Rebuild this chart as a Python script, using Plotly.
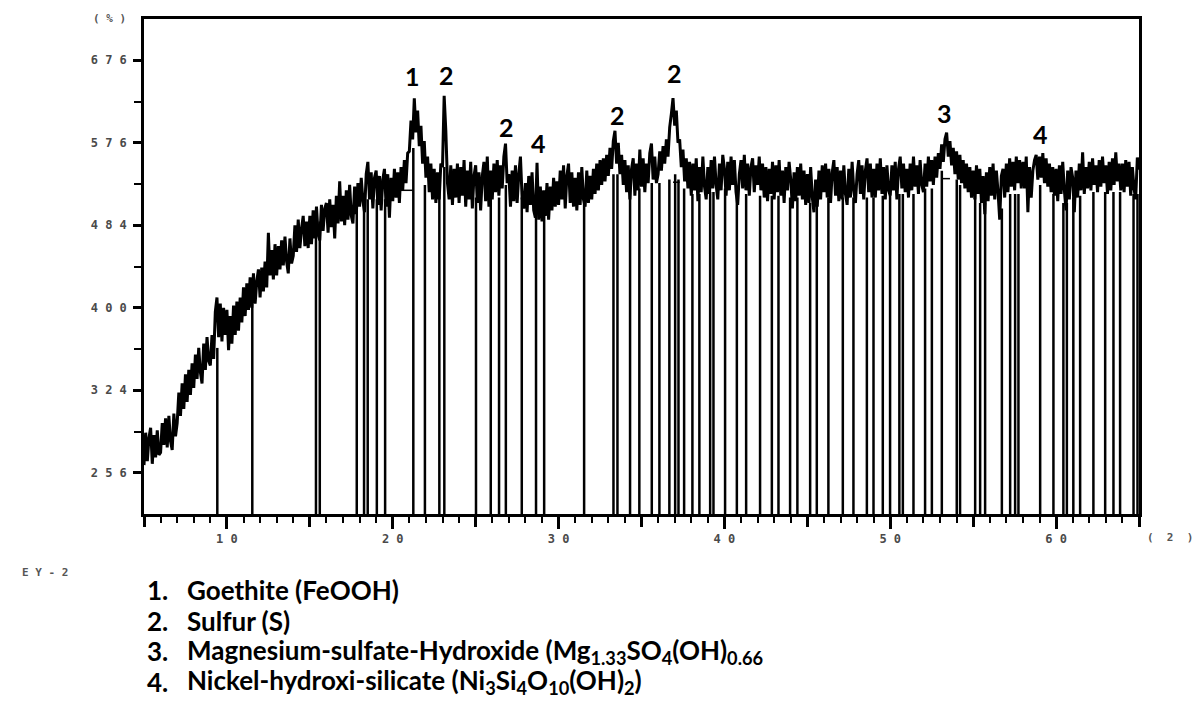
import numpy as np
import plotly.graph_objects as go

# ---------------- data ----------------
scan_start = 5.0      # 2-theta of first sample
scan_step = 0.1       # 2-theta step between samples

# intensity (counts, %) for 2-theta = 5.0, 5.1, ... 65.0  (one row per degree)
intensity = [
    262, 288, 265, 284, 292, 263, 286, 268, 290, 270,   # 5
    272, 296, 278, 300, 276, 302, 281, 274, 304, 285,   # 6
    296, 322, 302, 330, 308, 338, 314, 342, 320, 348,   # 7
    326, 356, 334, 362, 340, 330, 366, 342, 372, 350,   # 8
    346, 374, 352, 396, 410, 372, 404, 368, 400, 374,   # 9
    398, 360, 392, 366, 402, 374, 406, 378, 410, 386,   # 10
    420, 392, 424, 398, 430, 400, 434, 404, 426, 438,   # 11
    410, 440, 416, 446, 420, 476, 432, 458, 428, 464,   # 12
    432, 462, 438, 468, 442, 472, 446, 434, 470, 444,   # 13
    452, 484, 456, 490, 460, 480, 494, 462, 488, 460,   # 14
    494, 464, 500, 470, 504, 474, 468, 506, 478, 502,   # 15
    508, 476, 512, 482, 506, 470, 516, 486, 532, 488,   # 16
    516, 484, 522, 490, 528, 494, 486, 526, 496, 530,   # 17
    504, 536, 510, 498, 540, 554, 512, 542, 502, 536,   # 18
    544, 506, 538, 500, 534, 546, 504, 540, 492, 536,   # 19
    510, 546, 514, 542, 508, 548, 522, 556, 530, 564,   # 20
    566, 602, 580, 629, 588, 614, 572, 596, 552, 578,   # 21
    536, 560, 520, 552, 512, 546, 508, 542, 512, 552,   # 22
    548, 632, 590, 530, 512, 550, 506, 546, 514, 552,   # 23
    508, 548, 516, 556, 504, 544, 512, 554, 502, 538,   # 24
    550, 508, 542, 500, 538, 554, 510, 560, 504, 544,   # 25
    512, 552, 520, 556, 516, 550, 524, 560, 575, 530,   # 26
    540, 504, 544, 510, 550, 508, 540, 560, 514, 502,   # 27
    530, 498, 538, 506, 542, 500, 492, 553, 490, 526,   # 28
    488, 522, 494, 530, 490, 526, 500, 536, 504, 532,   # 29
    506, 544, 512, 550, 502, 538, 552, 508, 542, 504,   # 30
    536, 500, 542, 506, 548, 512, 504, 544, 508, 538,   # 31
    512, 546, 518, 552, 522, 556, 528, 558, 532, 562,   # 32
    538, 570, 546, 578, 590, 552, 576, 540, 562, 528,   # 33
    556, 520, 550, 512, 546, 558, 516, 552, 522, 568,   # 34
    526, 558, 520, 552, 530, 564, 575, 534, 560, 530,   # 35
    540, 566, 544, 572, 552, 580, 560, 594, 610, 629,   # 36
    596, 614, 576, 580, 548, 568, 532, 558, 524, 554,   # 37
    516, 552, 522, 558, 510, 548, 520, 560, 526, 512,   # 38
    548, 518, 556, 524, 560, 528, 512, 552, 522, 562,   # 39
    546, 516, 554, 522, 560, 528, 556, 520, 506, 540,   # 40
    556, 524, 562, 522, 552, 516, 548, 558, 520, 550,   # 41
    528, 560, 522, 552, 514, 548, 510, 546, 518, 554,   # 42
    512, 550, 520, 556, 516, 544, 508, 548, 522, 554,   # 43
    534, 502, 542, 510, 548, 516, 552, 512, 544, 506,   # 44
    540, 508, 548, 514, 498, 534, 504, 544, 512, 550,   # 45
    520, 552, 514, 546, 508, 542, 556, 516, 548, 510,   # 46
    544, 512, 550, 518, 506, 546, 514, 554, 522, 508,   # 47
    540, 556, 518, 550, 512, 544, 558, 520, 552, 514,   # 48
    546, 514, 552, 522, 558, 518, 548, 512, 550, 522,   # 49
    516, 550, 522, 554, 512, 546, 560, 524, 552, 520,   # 50
    546, 514, 552, 522, 560, 526, 550, 518, 556, 528,   # 51
    520, 552, 526, 560, 532, 556, 528, 560, 536, 564,   # 52
    546, 574, 554, 580, 588, 560, 578, 550, 570, 540,   # 53
    566, 534, 562, 530, 556, 524, 552, 520, 548, 514,   # 54
    544, 512, 550, 518, 546, 508, 538, 496, 542, 510,   # 55
    548, 516, 552, 512, 544, 520, 490, 538, 546, 514,   # 56
    552, 520, 558, 526, 554, 522, 560, 530, 556, 524,   # 57
    554, 524, 560, 498, 548, 514, 544, 556, 562, 534,   # 58
    560, 536, 564, 530, 558, 526, 552, 520, 548, 516,   # 59
    546, 510, 550, 518, 554, 522, 500, 544, 512, 548,   # 60
    536, 498, 544, 514, 552, 522, 565, 518, 548, 524,   # 61
    554, 522, 558, 528, 550, 520, 556, 526, 560, 530,   # 62
    550, 518, 554, 522, 558, 528, 565, 532, 552, 522,   # 63
    552, 520, 556, 526, 554, 516, 548, 524, 512, 559,   # 64
    545,                                                # 65
]

# reference (stick) lines: 2-theta position and the intensity where each stick ends
stick_pos = [
    9.42, 11.53, 15.37, 15.60, 17.83, 18.27, 18.49, 19.04, 19.54,
    21.24, 21.94, 22.81, 23.11, 25.02, 25.91, 26.41, 26.82, 27.78, 28.64, 29.13,
    31.54, 33.31, 33.55, 34.31, 34.87, 35.62, 36.08,
    36.68, 37.03, 37.23, 37.57, 38.07, 38.49, 39.14, 39.34, 40.04, 40.75, 41.31,
    42.15, 42.86, 43.26, 43.96, 44.40, 45.17, 45.57, 46.27, 47.14, 47.78, 48.59,
    48.99, 49.55, 49.99, 50.55,
    50.76, 51.40, 52.10, 52.51, 53.11, 54.01, 54.21, 55.12, 55.42, 55.72, 56.73,
    57.23, 57.53, 57.73, 59.04, 59.84, 60.44, 60.65, 61.04, 61.45, 62.25, 62.96,
    63.46, 63.86, 64.67, 64.91,
]
stick_top = [
    362, 404, 486, 488, 506, 512, 512, 512, 512,
    570, 528, 522, 548, 514, 514, 514, 528, 514, 508, 502,
    514, 540, 540, 524, 524, 530, 530,
    534, 540, 534, 524, 518, 518, 520, 520, 524, 518, 518,
    516, 516, 516, 514, 514, 508, 508, 514, 514, 514, 514,
    514, 516, 516, 518,
    518, 518, 524, 524, 544, 534, 528, 518, 508, 508, 502,
    518, 518, 518, 528, 518, 508, 508, 514, 516, 520, 520,
    520, 520, 518, 518,
]
stick_floor = 225

# short background segments under the main peaks
base_start = [20.44, 36.90, 53.10]
base_end = [21.22, 37.30, 53.60]
base_level = [522, 531, 535]

# peak identification numbers
peak_text = ["1", "2", "2", "4", "2", "2", "3", "4"]
peak_x = [21.22, 23.27, 26.83, 28.76, 33.53, 36.97, 53.25, 59.04]
peak_y = [656, 658, 594, 576, 609, 660, 611, 586]

# axis ticks
y_tick_values = [256, 324, 400, 484, 576, 676]
y_minor_values = [289, 361, 441, 529, 625]
y_range = [225, 729]
x_range = [5, 65]
x_labelled = [10, 20, 30, 40, 50, 60]
x_unlabelled_major = [5, 15, 25, 35, 45, 55, 65]

legend_numbers = ["1.", "2.", "3.", "4."]
legend_texts = [
    "Goethite (FeOOH)",
    "Sulfur (S)",
    "Magnesium-sulfate-Hydroxide (Mg<sub>1.33</sub>SO<sub>4</sub>(OH)<sub>0.66</sub>",
    "Nickel-hydroxi-silicate (Ni<sub>3</sub>Si<sub>4</sub>O<sub>10</sub>(OH)<sub>2</sub>)",
]

# ---------------- figure ----------------
two_theta = np.round(scan_start + scan_step * np.arange(len(intensity)), 2)
y_curve = np.sqrt(np.array(intensity, dtype=float))   # square-root intensity scale

sx, sy = [], []
for p, t in zip(stick_pos, stick_top):
    sx += [p, p, None]
    sy += [np.sqrt(stick_floor), np.sqrt(t), None]

bx, by = [], []
for a, b, lv in zip(base_start, base_end, base_level):
    bx += [a, b, None]
    by += [np.sqrt(lv), np.sqrt(lv), None]

fig = go.Figure()
fig.add_trace(go.Scatter(x=sx, y=sy, mode="lines",
                         line=dict(color="black", width=2.5), hoverinfo="skip"))
fig.add_trace(go.Scatter(x=bx, y=by, mode="lines",
                         line=dict(color="black", width=1.5), hoverinfo="skip"))
fig.add_trace(go.Scatter(x=two_theta, y=y_curve, mode="lines",
                         line=dict(color="black", width=3.0, simplify=False),
                         hoverinfo="skip"))
# invisible helper trace so the second x axis (unlabelled long ticks) is drawn
fig.add_trace(go.Scatter(x=[x_range[0]], y=[float(np.sqrt(y_range[0]))], xaxis="x2",
                         mode="markers", marker=dict(opacity=0), hoverinfo="skip"))

tick_font = dict(family="DejaVu Sans Mono", size=12, color="#4a4a4a", weight="bold")

def spaced(v):
    return " ".join(str(v))

x_minor = [v for v in range(x_range[0] + 1, x_range[1]) if v % 5 != 0]

fig.update_layout(
    xaxis=dict(
        range=x_range, showgrid=False, zeroline=False,
        showline=True, linecolor="black", linewidth=2.5, mirror=True,
        ticks="outside", ticklen=12, tickwidth=2.5, tickcolor="black",
        tickmode="array", tickvals=x_labelled, ticktext=[spaced(v) for v in x_labelled],
        tickfont=tick_font,
        minor=dict(tickmode="array", tickvals=x_minor, ticks="outside",
                   ticklen=6, tickwidth=2, tickcolor="black", showgrid=False),
    ),
    xaxis2=dict(
        range=x_range, overlaying="x", anchor="y", side="bottom",
        showgrid=False, zeroline=False, showline=False, showticklabels=False,
        ticks="outside", ticklen=12, tickwidth=2.5, tickcolor="black",
        tickmode="array", tickvals=x_unlabelled_major,
    ),
    yaxis=dict(
        range=list(np.sqrt(y_range)), showgrid=False, zeroline=False,
        showline=True, linecolor="black", linewidth=2.5, mirror=True,
        ticks="outside", ticklen=8, tickwidth=2.5, tickcolor="black",
        tickmode="array", tickvals=list(np.sqrt(y_tick_values)),
        ticktext=[spaced(v) for v in y_tick_values],
        tickfont=tick_font, ticklabelstandoff=4,
        minor=dict(tickmode="array", tickvals=list(np.sqrt(y_minor_values)),
                   ticks="outside", ticklen=7, tickwidth=2, tickcolor="black",
                   showgrid=False),
    ),
)

annotations = []
for t, x, y in zip(peak_text, peak_x, peak_y):
    annotations.append(dict(x=x, y=float(np.sqrt(y)), xref="x", yref="y", text="<b>%s</b>" % t,
                            xanchor="center", yanchor="middle",
                            showarrow=False, font=dict(family="Lato", size=25, color="black")))

small_font = dict(family="DejaVu Sans Mono", size=11, color="#555555", weight="bold")
for txt, x, y in [("( % )", -0.035, 1.002), ("(  2  )", 1.031, -0.0465), ("E Y - 2", -0.0995, -0.119)]:
    annotations.append(dict(xref="paper", yref="paper", x=x, y=y, text=txt,
                            xanchor="center", yanchor="middle",
                            showarrow=False, font=small_font))

legend_y = [-0.1535, -0.216, -0.277, -0.339]
for n, t, y in zip(legend_numbers, legend_texts, legend_y):
    annotations.append(dict(xref="paper", yref="paper", x=0.001, y=y, xanchor="left", yanchor="middle",
                            text="<b>%s</b>" % n, showarrow=False,
                            font=dict(family="Lato", size=26, color="black")))
    annotations.append(dict(xref="paper", yref="paper", x=0.0412, y=y, xanchor="left", yanchor="middle",
                            text="<b>%s</b>" % t, showarrow=False,
                            font=dict(family="Lato", size=26, color="black")))

fig.update_layout(
    width=1197, height=713,
    margin=dict(l=144, r=58, t=19, b=199),
    plot_bgcolor="white", paper_bgcolor="white",
    showlegend=False, annotations=annotations,
)

fig.write_html("out.html")
